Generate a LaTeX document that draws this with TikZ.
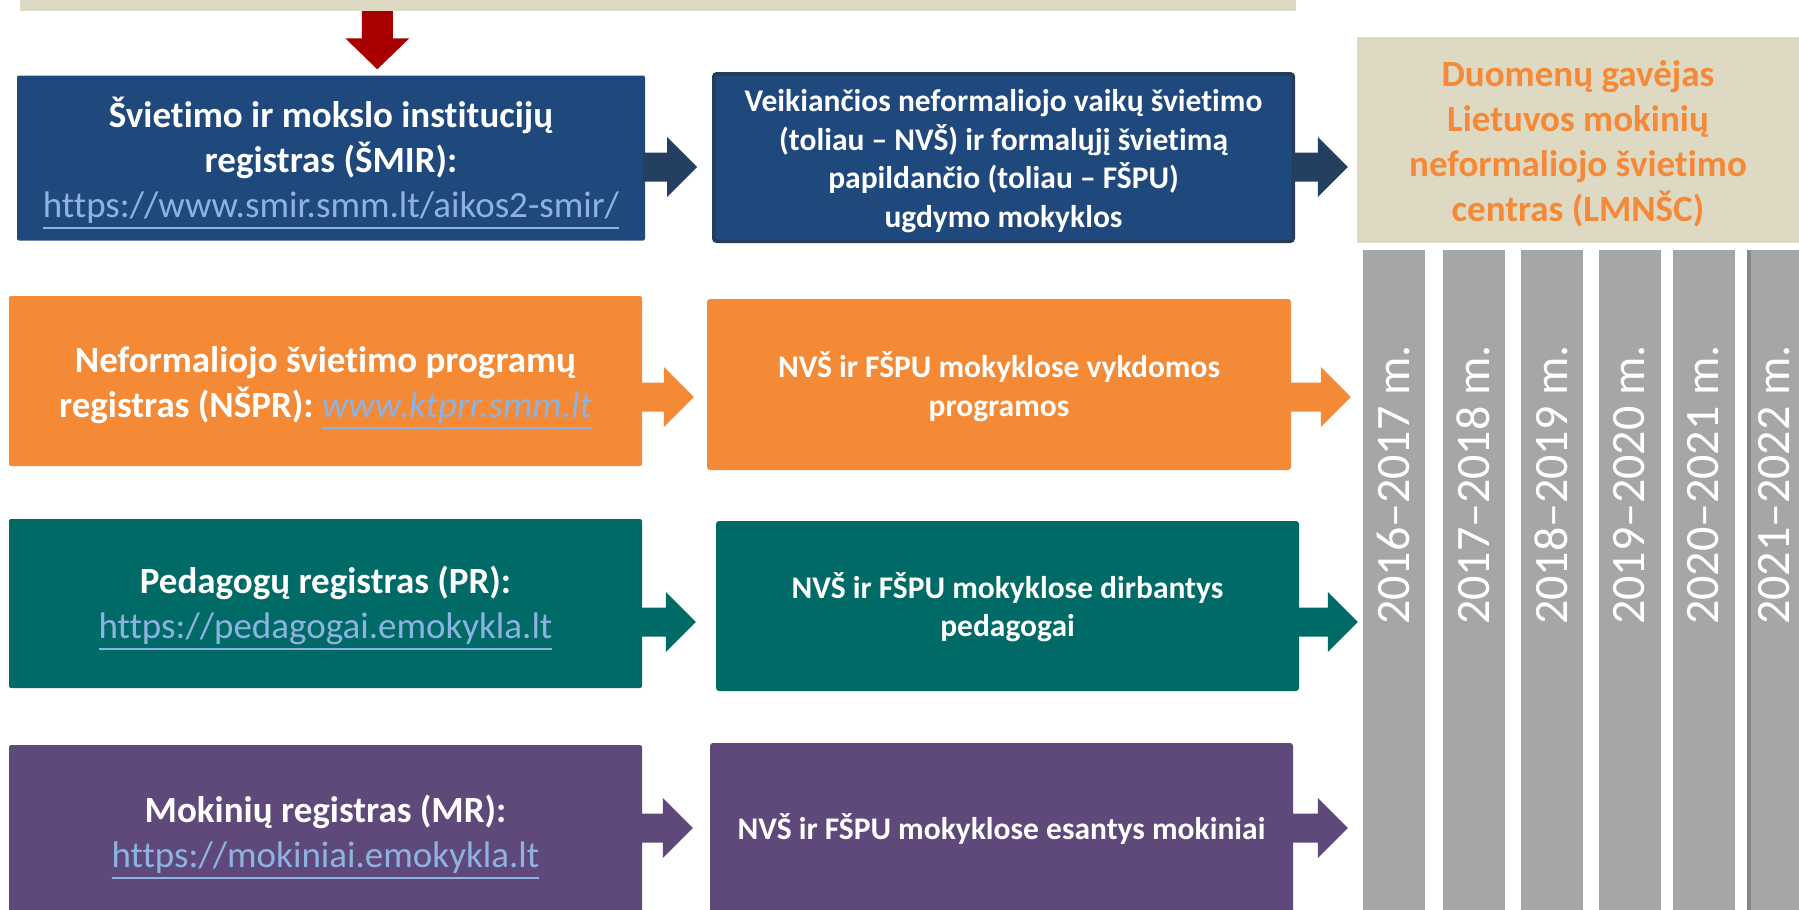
\documentclass[tikz,border=0pt]{standalone}
\usepackage{fontspec}
\setmainfont{Carlito}[Ligatures=NoCommon]
\usetikzlibrary{calc}
\definecolor{cbeige}{RGB}{221,217,195}
\definecolor{credarr}{RGB}{168,0,0}
\definecolor{cboxblue}{RGB}{31,73,125}
\definecolor{cblueedge}{RGB}{38,60,92}
\definecolor{carrblue}{RGB}{37,63,96}
\definecolor{corange}{RGB}{244,137,54}
\definecolor{cteal}{RGB}{0,106,102}
\definecolor{cpurple}{RGB}{95,73,122}
\definecolor{cgrey}{RGB}{166,166,166}
\definecolor{cgreydark}{RGB}{135,135,135}
\definecolor{clink}{RGB}{141,179,226}
\definecolor{ctxtorange}{RGB}{245,137,55}
\newcommand\ulink[1]{{\color{clink}\setbox0\hbox{#1}\rlap{\rule[-11.5pt]{\wd0}{2.2pt}}\box0}}
% block arrow: source, target, colour, vertical offset (px, down), gap before target (px)
\newcommand\blockarrow[5]{%
  \fill[#3] let \p1=($(#1.east)+(0,#4)$), \p2=(#2.west) in
    (\x1-2pt,\y1+14.5pt) -- (\x2-#5pt-30pt,\y1+14.5pt) -- (\x2-#5pt-30pt,\y1+30pt)
    -- (\x2-#5pt,\y1) -- (\x2-#5pt-30pt,\y1-30pt) -- (\x2-#5pt-30pt,\y1-14.5pt)
    -- (\x1-2pt,\y1-14.5pt) -- cycle;}
\begin{document}
\begin{tikzpicture}[x=1pt,y=-1pt,
  box/.style={rectangle, inner sep=0pt, rounded corners=2pt},
  midbox/.style={box, rounded corners=3pt},
  bigtext/.style={inner sep=0pt, align=center, text=white, font=\bfseries\fontsize{37}{45}\selectfont},
  midtext/.style={inner sep=0pt, align=center, text=white, font=\bfseries\fontsize{31.5}{38.5}\selectfont},
  yearcol/.style={rectangle, fill=cgrey, inner sep=0pt, minimum width=62pt,
    minimum height=680pt, anchor=north},
  yearlbl/.style={rotate=90, text=white, font=\fontsize{48}{58}\selectfont, inner sep=0pt}
]
\useasboundingbox (0,0) rectangle (1799,910);
\clip (0,0) rectangle (1799,910);
\fill[white] (0,0) rectangle (1799,910);

% top bar
\node[rectangle, fill=cbeige, inner sep=0pt, minimum width=1276pt, minimum height=17pt] (top) at (658,2.5) {};

% row 1
\node[box, fill=cboxblue, minimum width=628pt, minimum height=165pt,
  label={[bigtext, yshift=-5pt]center:{Švietimo ir mokslo institucijų\\registras (ŠMIR):\\\ulink{\mdseries https://www.smir.smm.lt/aikos2-smir/}}}] (smir) at (331,158) {};
\node[midbox, fill=cboxblue, draw=cblueedge, line width=3.5pt, minimum width=579.5pt, minimum height=167.5pt,
  label={[midtext, yshift=-3.5pt]center:{Veikiančios neformaliojo vaikų švietimo\\(toliau – NVŠ) ir formalųjį švietimą\\papildančio (toliau – FŠPU)\\ugdymo mokyklos}}] (inst) at (1003.5,157.5) {};
\node[rectangle, inner sep=0pt, fill=cbeige, minimum width=442pt, minimum height=206pt,
  label={[bigtext, text=ctxtorange, yshift=-3.5pt]center:{Duomenų gavėjas\\Lietuvos mokinių\\neformaliojo švietimo\\centras (LMNŠC)}}] (lmnsc) at (1578,140) {};

% row 2
\node[box, fill=corange, minimum width=633pt, minimum height=170pt,
  label={[bigtext, yshift=-7pt]center:{Neformaliojo švietimo programų\\registras (NŠPR): \ulink{\mdseries\itshape www.ktprr.smm.lt}}}] (nspr) at (325.5,381) {};
\node[midbox, fill=corange, minimum width=584pt, minimum height=171pt,
  label={[midtext, yshift=-2pt]center:{NVŠ ir FŠPU mokyklose vykdomos\\programos}}] (prog) at (999,384.5) {};

% row 3
\node[box, fill=cteal, minimum width=633pt, minimum height=169pt,
  label={[bigtext, yshift=-5pt]center:{Pedagogų registras (PR):\\\ulink{\mdseries https://pedagogai.emokykla.lt}}}] (pr) at (325.5,603.5) {};
\node[midbox, fill=cteal, minimum width=583pt, minimum height=170pt,
  label={[midtext, yshift=-1pt]center:{NVŠ ir FŠPU mokyklose dirbantys\\pedagogai}}] (ped) at (1007.5,606) {};

% row 4
\node[box, fill=cpurple, minimum width=633pt, minimum height=172pt,
  label={[bigtext, yshift=-6pt]center:{Mokinių registras (MR):\\\ulink{\mdseries https://mokiniai.emokykla.lt}}}] (mr) at (325.5,831) {};
\node[midbox, fill=cpurple, minimum width=583pt, minimum height=170pt,
  label={[midtext, yshift=-1pt]center:{NVŠ ir FŠPU mokyklose esantys mokiniai}}] (mok) at (1001.5,828) {};

% year columns
\foreach \i/\xx/\lx/\lbl in {1/1394/1393/2016–2017 m., 2/1474/1473/2017–2018 m., 3/1552/1551/2018–2019 m.,
                        4/1630/1629/2019–2020 m., 5/1704/1703/2020–2021 m., 6/1778/1774/2021–2022 m.} {
  \node[yearcol] (y\i) at (\xx,250) {};
  \node[yearlbl] (yl\i) at (\lx,485) {\lbl};
}
\fill[cgreydark] (y6.north west) rectangle ($(y6.south west)+(4,0)$);

% red arrow from the top bar
\fill[credarr] let \p1=($(top.south west)+(357.5,0)$), \p2=(smir.north) in
  (\x1-15.5pt,\y1) -- (\x1-15.5pt,\y2+37pt) -- (\x1-32pt,\y2+37pt) -- (\x1,\y2+6pt)
  -- (\x1+32pt,\y2+37pt) -- (\x1+15.5pt,\y2+37pt) -- (\x1+15.5pt,\y1) -- cycle;

% block arrows
\blockarrow{smir}{inst}{carrblue}{9}{15}
\blockarrow{inst}{lmnsc}{carrblue}{9.5}{9}
\blockarrow{nspr}{prog}{corange}{16}{13}
\blockarrow{prog}{y1}{corange}{12.5}{12}
\blockarrow{pr}{ped}{cteal}{18.5}{20}
\blockarrow{ped}{y1}{cteal}{16}{5}
\blockarrow{mr}{mok}{cpurple}{-3}{17}
\blockarrow{mok}{y1}{cpurple}{0}{15}
\end{tikzpicture}
\end{document}
